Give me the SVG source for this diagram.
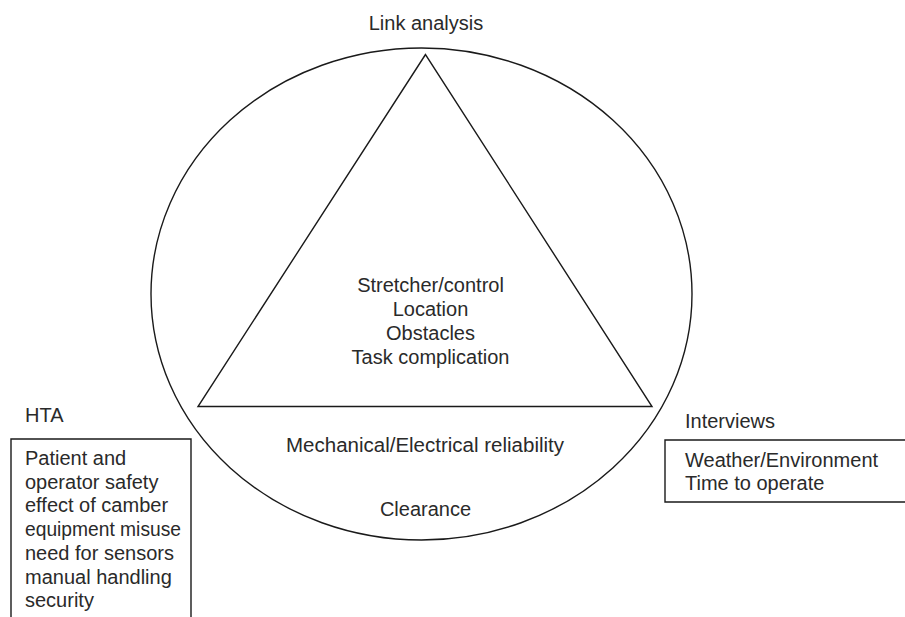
<svg xmlns="http://www.w3.org/2000/svg" width="905" height="617" viewBox="0 0 905 617">
<style>
.ln{fill:none;stroke:#1a1a1a;stroke-width:1.4}
text{font-family:"Liberation Sans",Arial,sans-serif;font-size:20px;fill:#2a2a2a}
.c{text-anchor:middle}
</style>
<rect width="905" height="617" fill="#fff"/>
<g id="ellipse-region">
<ellipse class="ln" cx="421.5" cy="294" rx="270.5" ry="246"/>
<text class="c" x="425" y="451.5" textLength="278" lengthAdjust="spacingAndGlyphs">Mechanical/Electrical reliability</text>
<text class="c" x="425.5" y="516">Clearance</text>
</g>
<g id="triangle">
<polygon class="ln" points="425.5,54.5 198,406.5 652,406.5"/>
<text class="c" x="430.5" y="292">Stretcher/control</text>
<text class="c" x="430.5" y="316">Location</text>
<text class="c" x="430.5" y="340">Obstacles</text>
<text class="c" x="430.5" y="363.5">Task complication</text>
</g>
<g id="link-analysis">
<text class="c" x="426" y="29.5">Link analysis</text>
</g>
<g id="hta">
<text x="25" y="421.5">HTA</text>
<path class="ln" d="M11,618 V439 H191 V618"/>
<text x="25" y="465">Patient and</text>
<text x="25" y="488.7">operator safety</text>
<text x="25" y="512.4">effect of camber</text>
<text x="25" y="536.1" textLength="156" lengthAdjust="spacingAndGlyphs">equipment misuse</text>
<text x="25" y="559.8">need for sensors</text>
<text x="25" y="583.5">manual handling</text>
<text x="25" y="607.2">security</text>
</g>
<g id="interviews">
<text x="685" y="427.5">Interviews</text>
<path class="ln" d="M906,440 H665 V502 H906"/>
<text x="685" y="466.5">Weather/Environment</text>
<text x="685" y="490">Time to operate</text>
</g>
<g id="connectors"></g>
</svg>
